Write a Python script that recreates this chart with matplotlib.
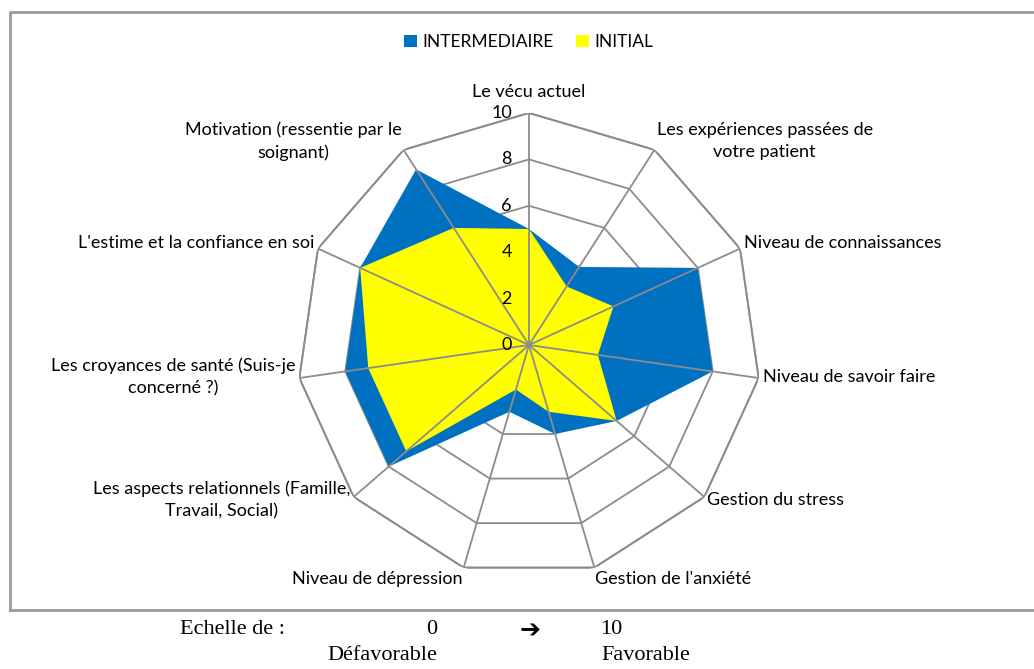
import numpy as np
import matplotlib.pyplot as plt
from matplotlib.patches import Patch

categories = [
    "Le vécu actuel",
    "Les expériences passées de\nvotre patient",
    "Niveau de connaissances",
    "Niveau de savoir faire",
    "Gestion du stress",
    "Gestion de l'anxiété",
    "Niveau de dépression",
    "Les aspects relationnels (Famille,\nTravail, Social)",
    "Les croyances de santé (Suis-je\nconcerné ?)",
    "L'estime et la confiance en soi",
    "Motivation (ressentie par le\nsoignant)",
]
intermediaire = [5, 4, 8, 8, 5, 4, 3, 8, 8, 8, 9]
initial = [5, 3, 4, 3, 5, 3, 2, 7, 7, 8, 6]
rings = [2, 4, 6, 8, 10]
tick_values = [0, 2, 4, 6, 8, 10]

blue = '#0070C0'
yellow = '#FFFF00'
grid_col = '#8C8C8C'
font = 'Lato'

fig = plt.figure(figsize=(10.34, 6.69), dpi=100)

# frame around chart area (right side runs off the picture)
fig.add_artist(plt.Line2D([10 / 1034, 10 / 1034, 1.0], [1 - 610 / 669, 1 - 12 / 669, 1 - 12 / 669],
                          color='#9A9A9A', lw=2, transform=fig.transFigure))
fig.add_artist(plt.Line2D([10 / 1034, 1.0], [1 - 610 / 669, 1 - 610 / 669],
                          color='#9A9A9A', lw=2, transform=fig.transFigure))

cx, cy, R = 529, 345, 232
ax = fig.add_axes([(cx - R) / 1034, (669 - cy - R) / 669, 2 * R / 1034, 2 * R / 669], projection='polar')
ax.set_theta_zero_location('N')
ax.set_theta_direction(-1)
ax.set_ylim(0, 10)
ax.grid(False)
ax.spines['polar'].set_visible(False)
ax.set_xticks([])
ax.set_yticks([])
ax.patch.set_alpha(0)

n = len(categories)
theta = np.arange(n) * 2 * np.pi / n
closed = np.append(theta, theta[0])

for r in rings:
    ax.plot(closed, [r] * (n + 1), color=grid_col, lw=1.3, zorder=1)

ax.fill(closed, intermediaire + intermediaire[:1], color=blue, zorder=2, lw=0)
ax.fill(closed, initial + initial[:1], color=yellow, zorder=3, lw=0)

for t in theta:
    ax.plot([t, t], [0, 10], color=grid_col, lw=1.3, zorder=4)
ax.plot(closed, [10] * (n + 1), color=grid_col, lw=1.3, zorder=4)

for v in tick_values:
    ax.annotate(str(v), xy=(0, v), xytext=(-17, 0), textcoords='offset pixels',
                ha='right', va='center', fontsize=13, family=font, zorder=5)

for t, lab in zip(theta, categories):
    s, c = np.sin(t), np.cos(t)
    if abs(s) < 0.1:
        ha = 'center'
    elif s > 0:
        ha = 'left'
    else:
        ha = 'right'
    if c > 0.9:
        va, dy = 'bottom', 13
    elif c < -0.9:
        va, dy = 'top', -3
    else:
        va, dy = 'center', 8 * c + 2
    ax.annotate(lab, xy=(t, 10), xytext=(4 * s, dy),
                textcoords='offset pixels', ha=ha, va=va, multialignment='center',
                fontsize=13, family=font, linespacing=1.5, annotation_clip=False)

handles = [Patch(facecolor=blue, label='INTERMEDIAIRE'), Patch(facecolor=yellow, label='INITIAL')]
fig.legend(handles=handles, loc='center', bbox_to_anchor=(529 / 1034, 1 - 42 / 669), ncol=2,
           frameon=False, handlelength=0.7, handleheight=0.7, handletextpad=0.35, columnspacing=1.3,
           prop={'family': font, 'size': 12.5})

serif = 'Liberation Serif'
fs = 16
fig.text(180 / 1034, 1 - 630 / 669, 'Echelle de :', family=serif, fontsize=fs, va='center', ha='left')
fig.text(432 / 1034, 1 - 630 / 669, '0', family=serif, fontsize=fs, va='center', ha='center')
fig.text(530 / 1034, 1 - 630 / 669, '\u2794', family='DejaVu Sans', fontsize=18, va='center', ha='center',
         fontweight='bold')
fig.text(611 / 1034, 1 - 630 / 669, '10', family=serif, fontsize=fs, va='center', ha='center')
fig.text(382 / 1034, 1 - 656 / 669, 'Défavorable', family=serif, fontsize=fs, va='center', ha='center')
fig.text(646 / 1034, 1 - 656 / 669, 'Favorable', family=serif, fontsize=fs, va='center', ha='center')

fig.savefig('out.png', dpi=100)
